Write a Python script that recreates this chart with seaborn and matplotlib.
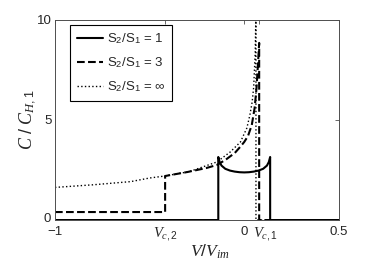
import numpy as np
import pandas as pd
import seaborn as sns
import matplotlib.pyplot as plt
import matplotlib.transforms as mtransforms

# Values
vc2 = -0.418   # V_c,2
vc1 = 0.079    # V_c,1

# S2/S1 = 1
solid_x = [-1, -0.137, -0.137, -0.13, -0.12, -0.10, -0.075, -0.05, -0.025, 0,
           0.025, 0.05, 0.075, 0.10, 0.12, 0.13, 0.137, 0.137, 0.5]
solid_y = [0, 0, 3.15, 2.9, 2.72, 2.56, 2.47, 2.42, 2.39, 2.38,
           2.39, 2.42, 2.47, 2.56, 2.72, 2.9, 3.15, 0, 0]

# S2/S1 = 3
dashed_x = [-1, -0.418, -0.418, -0.3, -0.2, -0.145, -0.1, -0.05, -0.02, 0,
            0.02, 0.04, 0.055, 0.065, 0.072, 0.079, 0.079, 0.5]
dashed_y = [0.4, 0.4, 2.2, 2.4, 2.6, 2.75, 3.0, 3.35, 3.67, 3.9,
            4.2, 4.75, 5.6, 6.6, 7.7, 8.85, 0, 0]

# S2/S1 = inf
dotted_x = [-1, -0.8, -0.6, -0.5, -0.42, -0.29, -0.145, -0.074, -0.02, 0.014,
            0.03, 0.042, 0.05, 0.058, 0.062, 0.062, 0.5]
dotted_y = [1.63, 1.76, 1.92, 2.1, 2.2, 2.42, 2.9, 3.4, 3.9, 4.6,
            5.25, 5.9, 6.65, 8.35, 10.5, 0, 0]

series_labels = ['S$_2$/S$_1$ = 1', 'S$_2$/S$_1$ = 3', 'S$_2$/S$_1$ = ∞']

sns.set_style('white')
plt.rcParams['font.family'] = ['Liberation Sans', 'DejaVu Sans']
plt.rcParams['mathtext.fontset'] = 'custom'
plt.rcParams['mathtext.rm'] = 'Liberation Sans'
plt.rcParams['mathtext.it'] = 'Liberation Serif:italic'

fig = plt.figure(figsize=(3.74, 2.69), dpi=100)
ax = fig.add_axes([0.147, 0.182, 0.759, 0.744])

# Draw the three curves
sns.lineplot(x=solid_x, y=solid_y, ax=ax, sort=False, estimator=None,
             color='black', linewidth=1.5, linestyle='-', label=series_labels[0])
sns.lineplot(x=dashed_x, y=dashed_y, ax=ax, sort=False, estimator=None,
             color='black', linewidth=1.5, linestyle='--', label=series_labels[1])
sns.lineplot(x=dotted_x, y=dotted_y, ax=ax, sort=False, estimator=None,
             color='black', linewidth=1.0, linestyle=':', label=series_labels[2])

# Axes limits and ticks
ax.set_xlim(-1, 0.5)
ax.set_ylim(0, 10)
ax.set_xticks([-1, vc2, 0, vc1, 0.5])
ax.set_xticklabels(['\u22121', r'$\mathit{V_{c,2}}$', '0', r'$\mathit{V_{c,1}}$', '0.5'])
ax.set_yticks([0, 5, 10])
ax.set_yticklabels(['0', '5', '10'])
ax.tick_params(direction='in', length=3, width=0.6, top=True, right=True,
               labelsize=9.5, color='0.3')
ax.tick_params(axis='x', pad=4)
ax.tick_params(axis='y', pad=2)

# V_c,1 label sits a little right of its tick in the reference
shift = mtransforms.ScaledTranslation(0.06, 0, fig.dpi_scale_trans)
for lab in ax.get_xticklabels():
    if 'V' in lab.get_text():
        lab.set_fontsize(10.5)
    if 'c,1' in lab.get_text():
        lab.set_transform(lab.get_transform() + shift)

# lift the y "0" a touch so it clears the "-1" below it
lift = mtransforms.ScaledTranslation(-0.01, 0.03, fig.dpi_scale_trans)
ylab0 = ax.get_yticklabels()[0]
ylab0.set_transform(ylab0.get_transform() + lift)

for sp in ax.spines.values():
    sp.set_color('0.3')
    sp.set_linewidth(0.7)

# Axis labels
ax.set_xlabel(r'$\mathit{V/V_{im}}$', fontsize=12.5)
ax.set_ylabel(r'$\mathit{C\ /\ C_{H,1}}$', fontsize=13)
ax.xaxis.set_label_coords(0.545, -0.115)
ax.yaxis.set_label_coords(-0.06, 0.5)

# Legend
leg = ax.legend(loc='upper left', bbox_to_anchor=(0.053, 0.975), borderaxespad=0,
                frameon=True, fancybox=False, edgecolor='black', fontsize=9.5,
                handlelength=2.0, handletextpad=0.3, labelspacing=0.7, borderpad=0.5)
leg.get_frame().set_linewidth(0.8)
leg.get_frame().set_alpha(1)

fig.savefig('out.png', dpi=100)
